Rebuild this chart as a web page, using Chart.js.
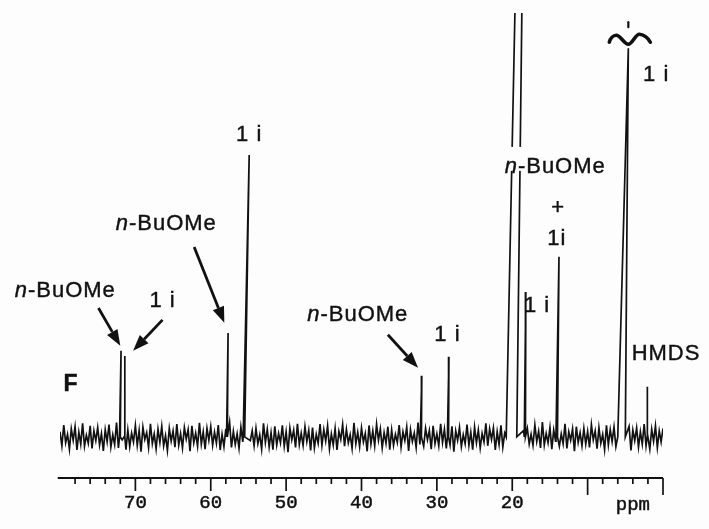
<!DOCTYPE html>
<html>
<head>
<meta charset="utf-8">
<script src="https://cdn.jsdelivr.net/npm/chart.js@4.4.1/dist/chart.umd.min.js"></script>
<style>
  html, body { margin: 0; padding: 0; background: #fff; }
  #wrap { width: 709px; height: 529px; }
</style>
</head>
<body>
<div id="wrap"><canvas id="nmr" width="709" height="529"></canvas></div>
<script>
// 13C spectrum (F): baseline noise sampled every 0.25 ppm from 80 ppm down to 0
const ppmStart = 80;
const ppmStep = 0.25;
const noise = [
  1.2,-2.1,2.8,-1.4,0.6,-2.9,1.9,-0.8,2.4,-3.1,1.1,-1.7,3.2,-2.2,0.4,-1.5,2.6,-2.7,1.4,-0.9,
  2.2,-1.9,0.8,-3.3,1.7,-1.1,2.9,-2.4,0.5,-1.8,3.4,-2.6,1.3,-0.7,2.1,-3.0,1.6,-2.3,0.9,-1.2,
  2.7,-2.0,1.5,-3.5,2.3,-0.6,1.0,-2.5,3.1,-1.6,0.7,-2.8,1.8,-1.3,2.5,-2.1,0.3,-3.2,2.0,-1.0,
  1.4,-2.4,3.0,-1.9,0.8,-2.6,2.2,-0.5,1.7,-3.4,2.6,-1.4,0.9,-2.2,3.3,-1.7,1.2,-2.9,2.0,-0.8,
  2.4,-2.0,1.1,-1.5,2.8,-3.1,0.6,-2.3,1.9,-1.0,3.5,-2.5,1.3,-1.8,0.7,-2.7,2.3,-1.2,1.6,-3.3,
  2.9,-0.9,1.4,-2.1,2.0,-1.6,0.5,-2.9,3.2,-1.3,1.8,-2.4,1.0,-3.0,2.5,-1.9,0.8,-1.4,2.7,-2.2,
  1.2,-3.6,2.1,-0.7,1.6,-2.5,3.1,-1.8,0.9,-2.0,2.4,-1.1,1.5,-3.2,2.2,-2.6,0.6,-1.5,3.0,-2.0,
  1.7,-1.0,2.6,-2.8,0.7,-1.9,2.0,-3.1,1.3,-0.6,2.9,-2.2,1.8,-1.4,0.5,-2.7,3.3,-1.6,1.1,-2.3,
  2.1,-1.2,0.8,-3.4,2.7,-1.7,1.4,-2.1,3.0,-0.8,1.9,-2.6,1.0,-1.5,2.4,-3.0,1.6,-2.0,0.6,-1.3,
  2.8,-2.4,1.2,-0.9,2.3,-3.3,1.7,-1.1,0.9,-2.5,3.4,-1.8,1.3,-2.2,2.0,-0.7,1.5,-2.9,2.6,-1.6,
  0.7,-2.1,3.1,-1.3,1.8,-2.7,1.0,-1.9,2.5,-3.5,1.4,-0.8,2.2,-2.3,0.5,-1.6,2.9,-2.0,1.1,-3.0,
  2.3,-1.4,1.6,-2.6,0.8,-1.2,3.2,-2.1,1.9,-0.6,2.1,-3.1,1.2,-1.8,2.7,-2.4,0.9,-1.0,1.7,-2.8,
  3.0,-1.5,1.1,-2.3,2.4,-0.9,1.5,-3.3,2.0,-1.7,0.6,-2.0,2.8,-1.1,1.3,-2.6,3.5,-1.9,0.8,-1.4,
  2.2,-2.9,1.6,-1.0,2.6,-2.2,0.7,-1.6,3.1,-2.7,1.2,-0.8,1.9,-3.4,2.4,-1.3,1.0,-2.1,2.0,-1.7,
  1.3,-2.5,2.9,-0.7,1.4,-2.8,2.2,-1.5,0.6,-3.0,2.7,-1.9,1.7,-1.1,2.3,-2.3,0.9,-1.8,3.2,-2.0,
  1.0,-1.4,2.5,-3.2,1.6,-0.9,2.1,-2.4,1.2,-1.7,3.0,-2.1,0.8,-2.9,1.8,-1.0,2.6,-2.5,1.4,-1.2,
  2.0
];

// peaks (ppm): base of rising stroke, tip going up, tip coming down, base of falling stroke
const peakRise  = [72.1, 71.5, 57.9, 55.7, 32.2, 28.6, 20.8, 18.4, 14.2, 6.0, 2.1];
const peakTipUp = [71.9, 71.4, 57.7, 54.9, 32.0, 28.4, 19.6, 18.2, 13.8, 4.6, 2.1];
const peakTipDn = [71.9, 71.4, 57.7, 54.9, 32.0, 28.4, 18.7, 18.2, 13.8, 4.6, 2.1];
const peakFall  = [72.0, 71.4, 57.8, 55.5, 32.1, 28.5, 19.4, 18.3, 14.0, 5.0, 2.1];
const peakHeight = [20.3, 19.1, 24.5, 66.5, 14.4, 18.9, 104, 34.2, 42.5, 91.7, 11.8];

const tickValues = [70, 60, 50, 40, 30, 20];
const tickLabels = ["70", "60", "50", "40", "30", "20"];
const axisUnit = "ppm";

// assignments, placed in (ppm, intensity)
const notes = [
  { text: "n-BuOMe", x: 79.3, y: 34.4 },
  { text: "1 i", x: 66.4, y: 32.1 },
  { text: "n-BuOMe", x: 65.9, y: 50.2 },
  { text: "1 i", x: 54.9, y: 71.2 },
  { text: "n-BuOMe", x: 40.5, y: 28.8 },
  { text: "1 i", x: 28.6, y: 24.1 },
  { text: "n-BuOMe", x: 14.3, y: 63.7, clear: true },
  { text: "+", x: 13.9, y: 54.0 },
  { text: "1i", x: 14.1, y: 46.7 },
  { text: "1 i", x: 16.7, y: 30.9 },
  { text: "1 i", x: 0.9, y: 85.4 },
  { text: "HMDS", x: -0.4, y: 19.6 },
  { text: "F", x: 78.6, y: 12.3, bold: true },
];
const arrows = [
  { from: [74.9, 30.4], to: [72.0, 21.5] },
  { from: [66.4, 27.6], to: [70.3, 20.3] },
  { from: [62.2, 44.8], to: [58.2, 26.9] },
  { from: [36.5, 24.1], to: [32.5, 16.3] },
];
const breakAt = [4.6, 91.7];

// build the trace: noise points, with the peak strokes dropped in
const peakGroups = peakTipUp.map((t, i) => {
  const pts = [
    { x: peakRise[i], y: 0 },
    { x: peakTipUp[i], y: peakHeight[i] },
    { x: peakTipDn[i], y: peakHeight[i] },
    { x: peakFall[i], y: 0 },
  ];
  const xs = pts.map((p) => p.x);
  return { key: Math.max(...xs), lo: Math.min(...xs), hi: Math.max(...xs), pts };
});
const items = [];
noise.forEach((v, i) => {
  const x = ppmStart - i * ppmStep;
  if (peakGroups.some((g) => x >= g.lo && x <= g.hi)) return;
  items.push({ key: x, pts: [{ x, y: v }] });
});
peakGroups.forEach((g) => items.push(g));
items.sort((a, b) => b.key - a.key);
const trace = items.flatMap((it) => it.pts);

const INK = "#111";

function drawNote(ctx, n, cx, cy) {
  const size = n.bold ? 23 : 22;
  const base = (n.bold ? "bold " : "") + size + 'px "Liberation Sans", Arial, sans-serif';
  const ital = "italic " + size + 'px "Liberation Sans", Arial, sans-serif';
  ctx.letterSpacing = n.bold ? "0px" : "1px";
  let first = "", rest = n.text;
  if (n.text.startsWith("n-")) { first = "n"; rest = n.text.slice(1); }
  ctx.font = ital;
  const w1 = first ? ctx.measureText(first).width : 0;
  ctx.font = base;
  const w2 = ctx.measureText(rest).width;
  const left = cx - (w1 + w2) / 2;
  if (n.clear) {
    ctx.fillStyle = "#fdfdfd";
    ctx.fillRect(left - 3, cy - 20, w1 + w2 + 6, 24);
  }
  ctx.fillStyle = INK;
  ctx.strokeStyle = INK;
  ctx.lineWidth = 0.4;
  ctx.textBaseline = "middle";
  ctx.textAlign = "left";
  if (first) {
    ctx.font = ital;
    ctx.fillText(first, left, cy);
    ctx.strokeText(first, left, cy);
  }
  ctx.font = base;
  ctx.fillText(rest, left + w1, cy);
  ctx.strokeText(rest, left + w1, cy);
  ctx.letterSpacing = "0px";
}

function drawArrow(ctx, x1, y1, x2, y2) {
  const ang = Math.atan2(y2 - y1, x2 - x1);
  const len = 16, half = 6;
  const bx = x2 - len * Math.cos(ang), by = y2 - len * Math.sin(ang);
  ctx.strokeStyle = INK;
  ctx.lineWidth = 2.8;
  ctx.beginPath();
  ctx.moveTo(x1, y1);
  ctx.lineTo(bx, by);
  ctx.stroke();
  ctx.fillStyle = INK;
  ctx.beginPath();
  ctx.moveTo(x2, y2);
  ctx.lineTo(bx + half * Math.sin(ang), by - half * Math.cos(ang));
  ctx.lineTo(bx - half * Math.sin(ang), by + half * Math.cos(ang));
  ctx.closePath();
  ctx.fill();
}

const paper = {
  id: "paper",
  beforeDraw(chart) {
    const ctx = chart.ctx;
    ctx.save();
    ctx.fillStyle = "#fdfdfd";
    ctx.fillRect(0, 0, chart.width, chart.height);
    ctx.restore();
  },
};

const decorations = {
  id: "decorations",
  afterDraw(chart) {
    const ctx = chart.ctx;
    const sx = chart.scales.x, sy = chart.scales.y;
    const ca = chart.chartArea;
    ctx.save();

    // ppm axis, ticks hanging below the line
    const yAxis = ca.bottom;
    ctx.strokeStyle = INK;
    ctx.lineWidth = 2;
    ctx.beginPath();
    ctx.moveTo(sx.getPixelForValue(80.3), yAxis);
    ctx.lineTo(sx.getPixelForValue(0), yAxis);
    ctx.stroke();
    ctx.lineWidth = 1.7;
    for (let v = 78; v >= 0; v -= 2) {
      let len = 6;
      if (v % 10 === 0) len = 13;
      if (v === 10 || v === 0) len = 17;
      const x = sx.getPixelForValue(v);
      ctx.beginPath();
      ctx.moveTo(x, yAxis);
      ctx.lineTo(x, yAxis + len);
      ctx.stroke();
    }
    ctx.fillStyle = INK;
    ctx.lineWidth = 0.5;
    ctx.font = '19px "Liberation Mono", "Courier New", monospace';
    ctx.textAlign = "center";
    ctx.textBaseline = "alphabetic";
    tickValues.forEach((v, i) => {
      const x = sx.getPixelForValue(v);
      ctx.fillText(tickLabels[i], x, yAxis + 30);
      ctx.strokeText(tickLabels[i], x, yAxis + 30);
    });
    ctx.fillText(axisUnit, sx.getPixelForValue(4.0), yAxis + 32);
    ctx.strokeText(axisUnit, sx.getPixelForValue(4.0), yAxis + 32);

    notes.forEach((n) => drawNote(ctx, n, sx.getPixelForValue(n.x), sy.getPixelForValue(n.y)));
    arrows.forEach((a) =>
      drawArrow(ctx,
        sx.getPixelForValue(a.from[0]), sy.getPixelForValue(a.from[1]),
        sx.getPixelForValue(a.to[0]), sy.getPixelForValue(a.to[1])));

    // scale-break mark over the tall 1i peak
    const bx = sx.getPixelForValue(breakAt[0]);
    const by = sy.getPixelForValue(breakAt[1]);
    ctx.strokeStyle = INK;
    ctx.lineWidth = 3.6;
    ctx.lineCap = "round";
    ctx.beginPath();
    ctx.moveTo(bx - 19, by - 6);
    ctx.bezierCurveTo(bx - 18, by - 10, bx - 15, by - 13, bx - 12, by - 13);
    ctx.bezierCurveTo(bx - 8, by - 13, bx - 4, by - 4, bx, by - 4);
    ctx.bezierCurveTo(bx + 4, by - 4, bx + 7, by - 14, bx + 11, by - 14);
    ctx.bezierCurveTo(bx + 15, by - 14, bx + 20, by - 10, bx + 22, by - 6);
    ctx.stroke();
    ctx.lineWidth = 2.2;
    ctx.beginPath();
    ctx.moveTo(bx, by - 26);
    ctx.lineTo(bx, by - 21);
    ctx.stroke();
    ctx.restore();
  },
};

window.addEventListener("DOMContentLoaded", () => {
  const ctx = document.getElementById("nmr").getContext("2d");
  new Chart(ctx, {
    type: "scatter",
    data: {
      datasets: [
        {
          data: trace,
          showLine: true,
          borderColor: INK,
          borderWidth: 1.7,
          pointRadius: 0,
          tension: 0,
        },
      ],
    },
    options: {
      responsive: false,
      animation: false,
      layout: { padding: { left: 60, right: 46, top: 13, bottom: 51 } },
      plugins: { legend: { display: false }, tooltip: { enabled: false } },
      scales: {
        x: { type: "linear", min: 0, max: 80, reverse: true, display: false },
        y: { type: "linear", min: -9.7, max: 100, display: false },
      },
    },
    plugins: [paper, decorations],
  });
});
</script>
</body>
</html>
